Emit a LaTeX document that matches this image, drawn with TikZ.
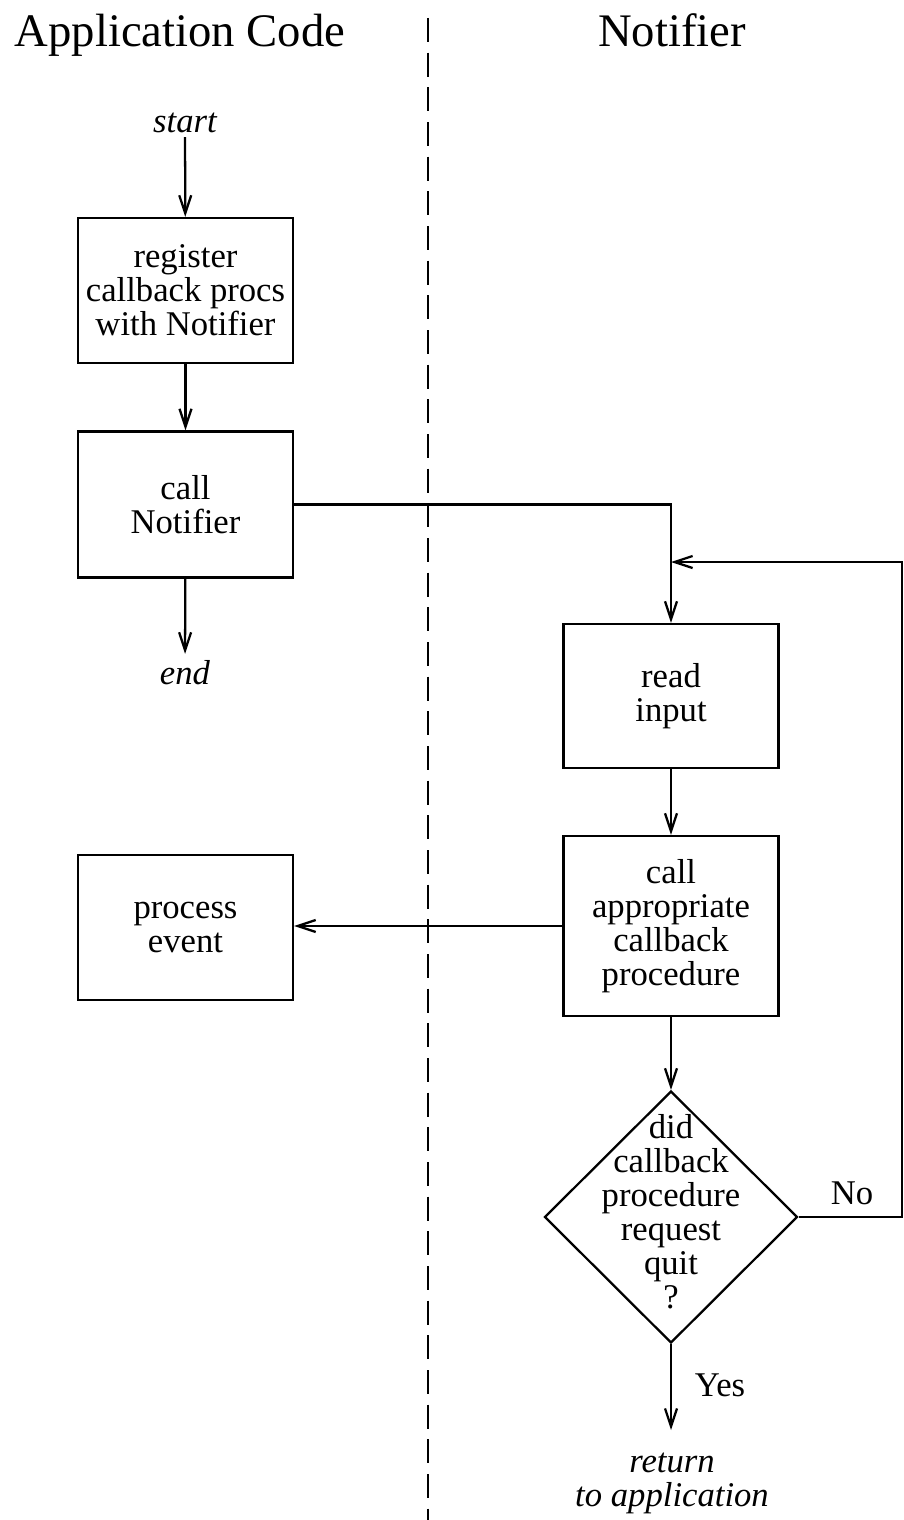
\documentclass[tikz,border=0pt]{standalone}
\usepackage{fontspec}
\setmainfont{Liberation Serif}
\usetikzlibrary{arrows.meta,shapes.geometric}
\begin{document}
\begin{tikzpicture}[x=0.75pt,y=-0.75pt,
  line/.style={line width=1.7pt},
  arr/.style={line, -{Straight Barb[length=13.5pt,width=9pt,line width=1.7pt]}},
  txt/.style={font=\fontsize{26}{25.5}\selectfont, align=center, inner sep=0pt},
  itxt/.style={font=\fontsize{26}{25.5}\selectfont\itshape, align=center, inner sep=3pt},
  title/.style={font=\fontsize{35}{40}\selectfont, inner sep=0pt, anchor=base},
  box/.style={draw, line width=1.7pt, txt, minimum width=161.25pt},
  divider/.style={line width=1.7pt, dash pattern=on 18pt off 8pt}
]
\useasboundingbox (0,0) rectangle (903,1520);
% titles
\node[title] (tapp) at (180,47) {Application Code};
\node[title] (tnot) at (672,47) {Notifier};
% divider
\coordinate (dtop) at (428,18);
\coordinate (dbot) at (428,1520);
\draw[divider] (dtop) -- (dbot);
% left column
\node[itxt] (start) at (185,123) {start};
\node[box, minimum height=108.75pt] (b1) at (185.5,290.5) {register\\callback procs\\with Notifier};
\node[box, minimum height=109.5pt] (b2) at (185.5,504.5) {call\\Notifier};
\node[itxt, inner sep=5pt] (end) at (185,673) {end};
\node[box, minimum height=108.75pt] (pe) at (185.5,927.5) {process\\event};
% right column
\node[box, minimum height=108pt] (b3) at (671,696) {read\\input};
\node[box, minimum height=135pt] (b4) at (671,926) {call\\appropriate\\callback\\procedure};
\node[diamond, draw, line width=1.7pt, minimum width=189.75pt, minimum height=189pt, inner sep=0pt] (d) at (671,1217) {};
\node[txt] (dt) at (671,1212) {did\\callback\\procedure\\request\\quit\\?};
\node[txt] (no) at (852,1193) {No};
\node[txt] (yes) at (720,1385) {Yes};
\coordinate (yesend) at (671,1430);
\node[itxt, inner sep=0pt] (ret) at (672,1483) {return\\to application};
\coordinate (join) at (671,562);
\coordinate (redge) at (902,562);
% connectors
\draw[arr] (start) -- (b1);
\draw[arr] (b1) -- (b2);
\draw[arr] (b2) -- (end);
\draw[arr] (b2.east) -| (b3.north);
\draw[arr] (b3) -- (b4);
\draw[arr] (b4.west) -- (b4.west -| pe.east);
\draw[arr] (b4) -- (d.north);
\draw[arr] (d.south) -- (yesend);
\draw[arr] (d.east) -- (d.east -| redge) -- (redge) -- (join);
\end{tikzpicture}
\end{document}
